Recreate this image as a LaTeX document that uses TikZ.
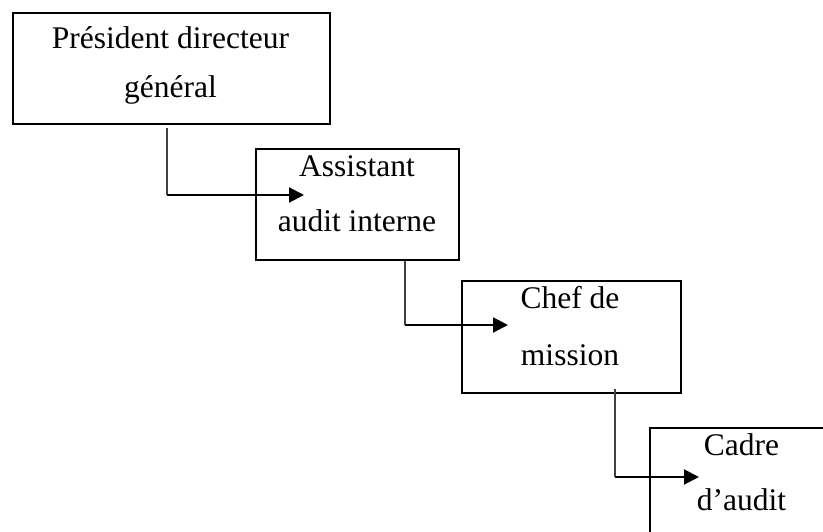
\documentclass[tikz,border=0pt]{standalone}
\usepackage{fontspec}
\setmainfont{Liberation Serif}
\usetikzlibrary{arrows.meta}
\begin{document}
\begin{tikzpicture}[x=1pt,y=-1pt,
  box/.style={draw=black, line width=2pt, rectangle, inner sep=0pt, anchor=north west},
  lbl/.style={anchor=base, inner sep=0pt, font=\fontsize{31.5}{38}\selectfont},
  vconn/.style={draw=black!75, line width=1.2pt},
  hconn/.style={draw=black, line width=2pt, -{Triangle[length=15pt,width=15pt]}}
]
\useasboundingbox (0,0) rectangle (823,531);
\clip (0,0) rectangle (823,531);
% boxes
\node[box, minimum width=317pt, minimum height=111pt] (b1) at (12,12) {};
\node[box, minimum width=203pt, minimum height=111pt] (b2) at (255,148) {};
\node[box, minimum width=219pt, minimum height=112pt] (b3) at (461,280) {};
\node[box, minimum width=185pt, minimum height=112pt] (b4) at (649,427) {};
% labels
\node[lbl] (t1a) at (170.5,48.3) {Président directeur};
\node[lbl] (t1b) at (170.5,97.7) {général};
\node[lbl] (t2a) at (357,176.7) {Assistant};
\node[lbl] (t2b) at (357,231.7) {audit interne};
\node[lbl] (t3a) at (570,308.3) {Chef de};
\node[lbl] (t3b) at (570,365) {mission};
\node[lbl] (t4a) at (741.5,455) {Cadre};
\node[lbl] (t4b) at (741.5,510) {d’audit};
% connectors
\coordinate (k1) at (167,195);
\coordinate (e1) at (304,195);
\coordinate (k2) at (405,325);
\coordinate (e2) at (508,325);
\coordinate (k3) at (615,477);
\coordinate (e3) at (699,477);
\draw[vconn] ([yshift=-3pt]b1.south -| k1) -- (k1);
\draw[hconn] (k1) -- (e1);
\draw[vconn] (b2.south -| k2) -- (k2);
\draw[hconn] (k2) -- (e2);
\draw[vconn] ([yshift=5pt]b3.south -| k3) -- (k3);
\draw[hconn] (k3) -- (e3);
\end{tikzpicture}
\end{document}
